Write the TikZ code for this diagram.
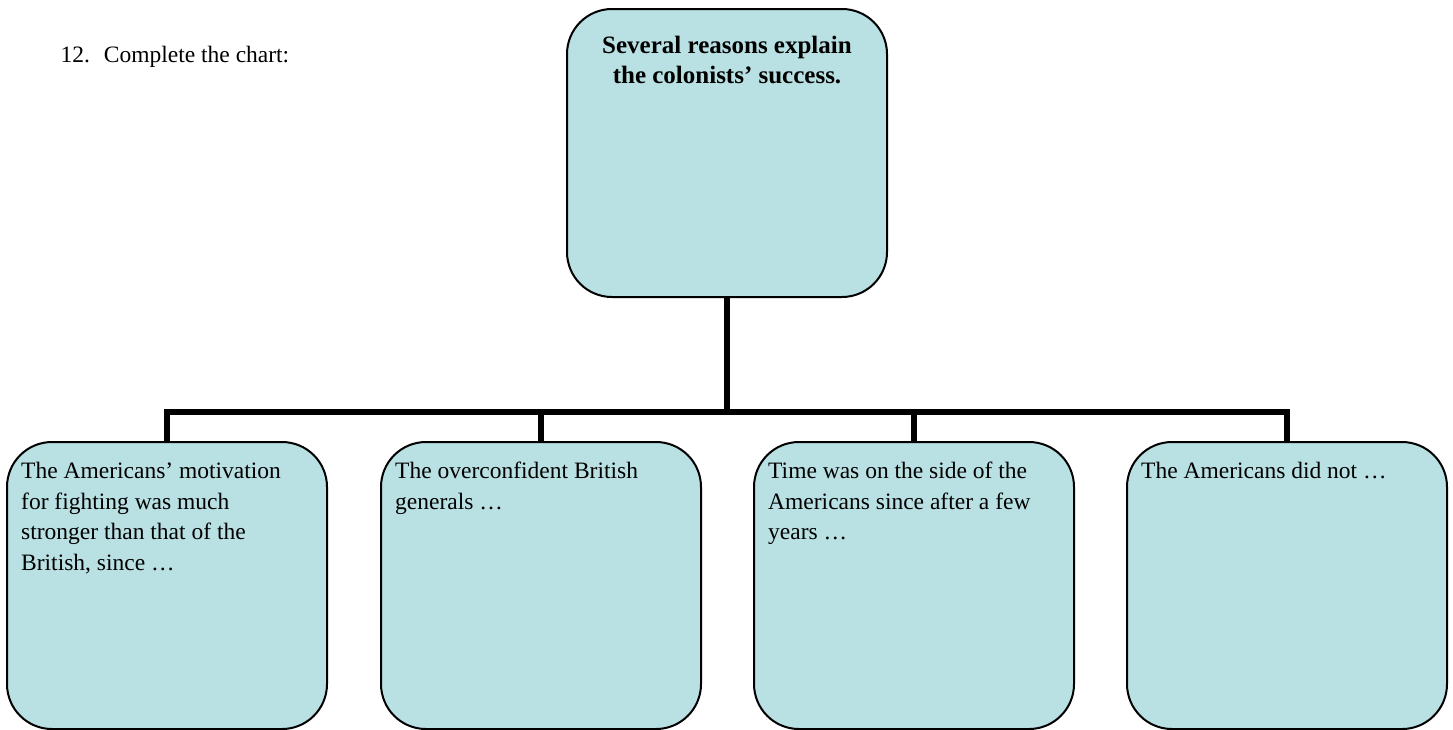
\documentclass[tikz,border=0pt]{standalone}
\usepackage{fontspec}
\setmainfont{Liberation Serif}
\usetikzlibrary{positioning}
\definecolor{boxblue}{RGB}{185,224,227}
\tikzset{
    reasonbox/.style = {draw, line width = 2pt, fill = boxblue, rounded corners = 45pt,
        minimum width = 320pt, minimum height = 287pt, inner sep = 0pt},
    boxtext/.style = {anchor = north west, align = left, inner sep = 0pt,
        font = \fontsize{23.5}{30.5}\selectfont},
    trunk/.style = {line width = 6pt}
}
\begin{document}
\begin{tikzpicture}[x = 1pt, y = -1pt]
    \useasboundingbox (0, 0) rectangle (1453, 729);

    \node[anchor = base west, font = \fontsize{23.5}{28}\selectfont] (task) at (57, 62)
        {12.\hspace{14pt}Complete the chart:};

    \node[reasonbox, minimum height = 288pt] (top) at (727, 153) {};
    \node[anchor = north, align = center, inner sep = 0pt,
        font = \fontsize{25}{30}\selectfont\bfseries] (toptext) at ([yshift = -28pt] top.north)
        {Several reasons explain\\ the colonists’ success.};

    \node[reasonbox] (r1) at (167, 585.5) {};
    \node[reasonbox] (r2) at (541, 585.5) {};
    \node[reasonbox] (r3) at (914, 585.5) {};
    \node[reasonbox] (r4) at (1287, 585.5) {};

    \node[boxtext] (t1) at ([xshift = 15pt, yshift = -21pt] r1.north west)
        {The Americans’ motivation\\ for fighting was much\\ stronger than that of the\\ British, since \dots};
    \node[boxtext] (t2) at ([xshift = 15pt, yshift = -21pt] r2.north west)
        {The overconfident British\\ generals \dots};
    \node[boxtext] (t3) at ([xshift = 15pt, yshift = -21pt] r3.north west)
        {Time was on the side of the\\ Americans since after a few\\ years \dots};
    \node[boxtext] (t4) at ([xshift = 15pt, yshift = -21pt] r4.north west)
        {The Americans did not \dots};

    % branches
    \coordinate (bar) at (727, 412);
    \draw[trunk] (top.south) -- (bar);
    \draw[trunk] (r1.north) -- (r1.north |- bar) -- (r4.north |- bar) -- (r4.north);
    \foreach \r in {r2, r3}
        \draw[trunk] (\r.north) -- (\r.north |- bar);
\end{tikzpicture}
\end{document}
